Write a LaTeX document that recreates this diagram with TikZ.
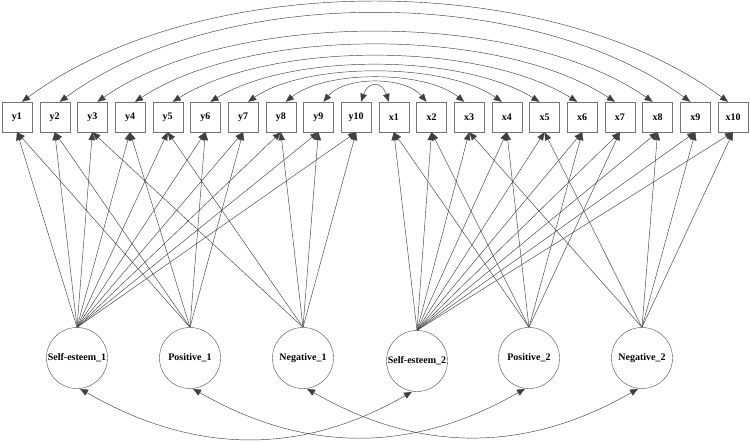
\documentclass[tikz,border=0pt]{standalone}
\usepackage{fontspec}
\setmainfont{Liberation Serif}
\usetikzlibrary{arrows.meta}

\begin{document}
\begin{tikzpicture}[x=1pt, y=-1pt, >={Triangle[length=8pt,width=6.5pt]},
		obs_style/.style={rectangle,draw=black!55,minimum width=30pt,minimum height=30pt,inner sep=0pt,font=\bfseries},
		lat_style/.style={circle,draw=black!70,minimum size=61pt,inner sep=0pt,font=\bfseries},
		load_style/.style={->,draw=black!75,line width=0.45pt},
		cov_style/.style={<->,draw=black!75,line width=0.45pt}]
		
		\useasboundingbox (0,0) rectangle (750,443);
		
		\node[obs_style] (y1) at (17,117)  {y1};
		\node[obs_style] (y2) at (54.7,117)  {y2};
		\node[obs_style] (y3) at (92.4,117)  {y3};
		\node[obs_style] (y4) at (130,117)  {y4};
		\node[obs_style] (y5) at (167.7,117)  {y5};
		\node[obs_style] (y6) at (205.4,117)  {y6};
		\node[obs_style] (y7) at (243.1,117)  {y7};
		\node[obs_style] (y8) at (280.8,117)  {y8};
		\node[obs_style] (y9) at (318.4,117)  {y9};
		\node[obs_style] (y10) at (356.1,117)  {y10};
		\node[obs_style] (x1) at (393.8,117)  {x1};
		\node[obs_style] (x2) at (431.5,117)  {x2};
		\node[obs_style] (x3) at (469.2,117)  {x3};
		\node[obs_style] (x4) at (506.8,117)  {x4};
		\node[obs_style] (x5) at (544.5,117)  {x5};
		\node[obs_style] (x6) at (582.2,117)  {x6};
		\node[obs_style] (x7) at (619.9,117)  {x7};
		\node[obs_style] (x8) at (657.6,117)  {x8};
		\node[obs_style] (x9) at (695.3,117)  {x9};
		\node[obs_style] (x10) at (733,117)  {x10};
		
		\node[lat_style] (se1) at (77,358)  {Self-esteem\_1};
		\node[lat_style] (pos1) at (190,358)  {Positive\_1};
		\node[lat_style] (neg1) at (303,358)  {Negative\_1};
		\node[lat_style] (se2) at (417,361)  {Self-esteem\_2};
		\node[lat_style] (pos2) at (529,358)  {Positive\_2};
		\node[lat_style] (neg2) at (642,358)  {Negative\_2};
		
		% time 1
		\draw[load_style] (se1.north) -- (y1.south);
		\draw[load_style] (se1.north) -- (y2.south);
		\draw[load_style] (se1.north) -- (y3.south);
		\draw[load_style] (se1.north) -- (y4.south);
		\draw[load_style] (se1.north) -- (y5.south);
		\draw[load_style] (se1.north) -- (y6.south);
		\draw[load_style] (se1.north) -- (y7.south);
		\draw[load_style] (se1.north) -- (y8.south);
		\draw[load_style] (se1.north) -- (y9.south);
		\draw[load_style] (se1.north) -- (y10.south);
		\draw[load_style] (pos1.north) -- (y1.south);
		\draw[load_style] (pos1.north) -- (y2.south);
		\draw[load_style] (pos1.north) -- (y4.south);
		\draw[load_style] (pos1.north) -- (y6.south);
		\draw[load_style] (pos1.north) -- (y7.south);
		\draw[load_style] (neg1.north) -- (y3.south);
		\draw[load_style] (neg1.north) -- (y5.south);
		\draw[load_style] (neg1.north) -- (y8.south);
		\draw[load_style] (neg1.north) -- (y9.south);
		\draw[load_style] (neg1.north) -- (y10.south);
		
		% time 2
		\draw[load_style] (se2.north) -- (x1.south);
		\draw[load_style] (se2.north) -- (x2.south);
		\draw[load_style] (se2.north) -- (x3.south);
		\draw[load_style] (se2.north) -- (x4.south);
		\draw[load_style] (se2.north) -- (x5.south);
		\draw[load_style] (se2.north) -- (x6.south);
		\draw[load_style] (se2.north) -- (x7.south);
		\draw[load_style] (se2.north) -- (x8.south);
		\draw[load_style] (se2.north) -- (x9.south);
		\draw[load_style] (se2.north) -- (x10.south);
		\draw[load_style] (pos2.north) -- (x1.south);
		\draw[load_style] (pos2.north) -- (x2.south);
		\draw[load_style] (pos2.north) -- (x4.south);
		\draw[load_style] (pos2.north) -- (x6.south);
		\draw[load_style] (pos2.north) -- (x7.south);
		\draw[load_style] (neg2.north) -- (x3.south);
		\draw[load_style] (neg2.north) -- (x5.south);
		\draw[load_style] (neg2.north) -- (x8.south);
		\draw[load_style] (neg2.north) -- (x9.south);
		\draw[load_style] (neg2.north) -- (x10.south);
		
		% residual covariances
		\draw[cov_style] ([xshift=5pt]y1.north) .. controls (201,-31) and (549,-31) .. ([xshift=-5pt]x10.north);
		\draw[cov_style] ([xshift=5pt]y2.north) .. controls (220,-16) and (530,-16) .. ([xshift=-5pt]x9.north);
		\draw[cov_style] ([xshift=5pt]y3.north) .. controls (230,9) and (520,9) .. ([xshift=-5pt]x8.north);
		\draw[cov_style] ([xshift=5pt]y4.north) .. controls (250,26) and (500,26) .. ([xshift=-5pt]x7.north);
		\draw[cov_style] ([xshift=5pt]y5.north) .. controls (270,41) and (480,41) .. ([xshift=-5pt]x6.north);
		\draw[cov_style] ([xshift=5pt]y6.north) .. controls (290,53) and (460,53) .. ([xshift=-5pt]x5.north);
		\draw[cov_style] ([xshift=5pt]y7.north) .. controls (305,62) and (445,62) .. ([xshift=-5pt]x4.north);
		\draw[cov_style] ([xshift=5pt]y8.north) .. controls (325,70) and (425,70) .. ([xshift=-5pt]x3.north);
		\draw[cov_style] ([xshift=5pt]y9.north) .. controls (345,76) and (405,76) .. ([xshift=-5pt]x2.north);
		\draw[cov_style] ([xshift=5pt]y10.north) .. controls (368,81) and (382,81) .. ([xshift=-5pt]x1.north);
		
		% factor covariances
		\draw[cov_style] ([xshift=3pt]se1.south) to[out=-30,in=-150] ([xshift=-5pt]se2.south);
		\draw[cov_style] ([xshift=3pt]pos1.south) to[out=-30,in=-150] ([xshift=-4pt]pos2.south);
		\draw[cov_style] ([xshift=4pt]neg1.south) to[out=-30,in=-150] ([xshift=-4pt]neg2.south);
		
		\end{tikzpicture}
\end{document}
